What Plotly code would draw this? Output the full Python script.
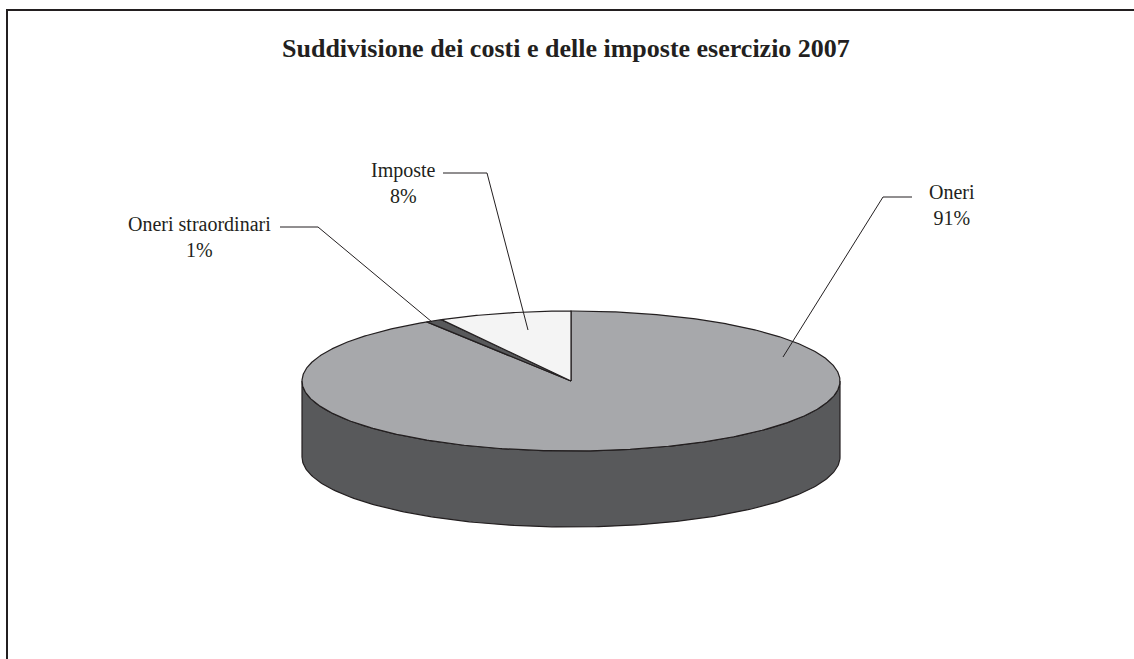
import numpy as np
import plotly.graph_objects as go

# ---- data ----
labels = ["Oneri", "Oneri straordinari", "Imposte"]
values = [91, 1, 8]
title_text = "Suddivisione dei costi e delle imposte esercizio 2007"

# ---- styles / layout constants ----
top_colors = ["#a7a8ab", "#58595b", "#f4f4f4"]
side_colors = ["#58595b", "#3a3a3c", "#c8c8c8"]
edge = "#231f20"
W, H = 1134, 659
CX, CY, RX, RY, DEPTH = 571, 381, 269, 70, 76
FONT = "Liberation Serif, Times New Roman, serif"

# label placement (centre of text) and leader-line paths (elbow, then inner point)
label_pos = {
    "Oneri": (952, 205),
    "Oneri straordinari": (199, 237),
    "Imposte": (403, 183),
}
leader_paths = {
    "Oneri": [(912, 197), (883, 197), (783, 357)],
    "Oneri straordinari": [(280, 227), (318, 227), (432, 322)],
    "Imposte": [(443, 173), (487, 173), (528, 330)],
}


def ell(theta_deg, dy=0.0):
    t = np.radians(theta_deg)
    return CX + RX * np.sin(t), CY - RY * np.cos(t) + dy


total = float(sum(values))
fracs = [v / total for v in values]
starts = np.concatenate([[0.0], np.cumsum(fracs)[:-1]]) * 360.0
ends = np.cumsum(fracs) * 360.0

fig = go.Figure()

# side walls (visible front half: angles 90..270, clockwise from top)
for lab, a0, a1, col in zip(labels, starts, ends, side_colors):
    s0, s1 = max(a0, 90.0), min(a1, 270.0)
    if s1 <= s0:
        continue
    th = np.linspace(s0, s1, 200)
    xt, yt = ell(th)
    xb, yb = ell(th[::-1], DEPTH)
    xs = np.concatenate([xt, xb, xt[:1]])
    ys = np.concatenate([yt, yb, yt[:1]])
    fig.add_trace(go.Scatter(x=xs, y=ys, mode="lines", fill="toself",
                             fillcolor=col, line=dict(color=edge, width=1.2),
                             hoverinfo="skip", showlegend=False))

# top faces
for lab, a0, a1, col in zip(labels, starts, ends, top_colors):
    n = max(int((a1 - a0) * 2), 6)
    th = np.linspace(a0, a1, n)
    xa, ya = ell(th)
    xs = np.concatenate([[CX], xa, [CX]])
    ys = np.concatenate([[CY], ya, [CY]])
    fig.add_trace(go.Scatter(x=xs, y=ys, mode="lines", fill="toself",
                             fillcolor=col, line=dict(color=edge, width=1.2),
                             hoverinfo="skip", showlegend=False))

# leader lines
for lab in labels:
    pts = leader_paths[lab]
    fig.add_trace(go.Scatter(x=[p[0] for p in pts], y=[p[1] for p in pts],
                             mode="lines", line=dict(color=edge, width=1),
                             hoverinfo="skip", showlegend=False))

annotations = []
for lab, f in zip(labels, fracs):
    x, y = label_pos[lab]
    annotations.append(dict(x=x, y=y, xref="x", yref="y", showarrow=False,
                            text=f"{lab}<br>{round(f * 100)}%",
                            font=dict(family=FONT, size=20, color=edge),
                            xanchor="center", yanchor="middle", align="center"))

annotations.append(dict(x=566, y=48, xref="x", yref="y", showarrow=False,
                        text=f"<b>{title_text}</b>",
                        font=dict(family=FONT, size=26, color=edge),
                        xanchor="center", yanchor="middle"))

shapes = [
    dict(type="line", xref="x", yref="y", x0=7, y0=10, x1=7, y1=H + 5,
         line=dict(color=edge, width=2)),
    dict(type="line", xref="x", yref="y", x0=6, y0=10, x1=W + 5, y1=10,
         line=dict(color=edge, width=2)),
]

fig.update_layout(
    width=W, height=H,
    margin=dict(l=0, r=0, t=0, b=0),
    paper_bgcolor="white", plot_bgcolor="white",
    xaxis=dict(range=[0, W], visible=False, fixedrange=True),
    yaxis=dict(range=[H, 0], visible=False, fixedrange=True),
    annotations=annotations, shapes=shapes,
    showlegend=False,
)

fig.write_html("out.html", config={"displayModeBar": False})
